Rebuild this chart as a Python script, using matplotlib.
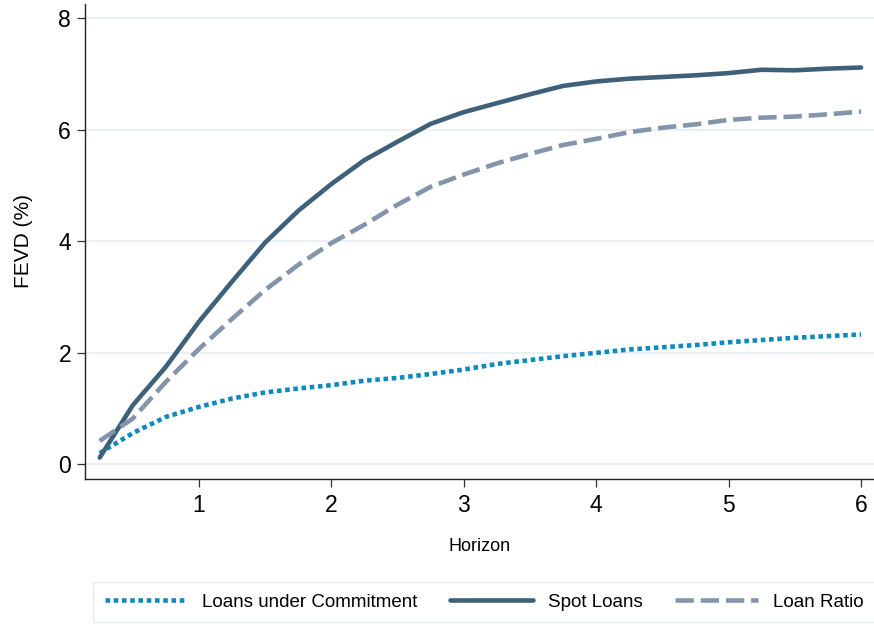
import numpy as np
import matplotlib
matplotlib.use("Agg")
from matplotlib import pyplot as plt

plt.rcParams["font.family"] = ["Liberation Sans", "DejaVu Sans"]

# forecast horizon in years (quarterly steps)
horizon = [0.25, 0.5, 0.75, 1.0, 1.25, 1.5, 1.75, 2.0, 2.25, 2.5, 2.75, 3.0,
           3.25, 3.5, 3.75, 4.0, 4.25, 4.5, 4.75, 5.0, 5.25, 5.5, 5.75, 6.0]

commitment = [0.20, 0.56, 0.85, 1.03, 1.18, 1.29, 1.36, 1.42, 1.50, 1.55, 1.62, 1.70,
              1.80, 1.87, 1.94, 2.00, 2.06, 2.10, 2.14, 2.19, 2.23, 2.27, 2.30, 2.33]

spot = [0.12, 1.06, 1.75, 2.56, 3.28, 3.98, 4.55, 5.03, 5.46, 5.79, 6.11, 6.32,
        6.48, 6.64, 6.79, 6.87, 6.92, 6.95, 6.98, 7.02, 7.08, 7.07, 7.10, 7.12]

ratio = [0.42, 0.82, 1.48, 2.07, 2.61, 3.13, 3.58, 3.97, 4.30, 4.66, 4.98, 5.20,
         5.40, 5.57, 5.73, 5.84, 5.96, 6.04, 6.10, 6.18, 6.22, 6.24, 6.28, 6.33]

labels = ["Loans under Commitment", "Spot Loans", "Loan Ratio"]

fig = plt.figure(figsize=(8.74, 6.24), dpi=100)
ax = fig.add_axes([85 / 874, 1 - 479 / 624, 789 / 874, 475 / 624])

ax.plot(horizon, commitment, color="#0f8abf", lw=3.3, ls=(0, (1, 0.8)),
        dash_capstyle="butt", label=labels[0])
ax.plot(horizon, spot, color="#3e6079", lw=3.3, solid_capstyle="round",
        label=labels[1])
ax.plot(horizon, ratio, color="#8394ab", lw=3.3, ls=(0, (4, 1.5)),
        dash_capstyle="butt", label=labels[2])

ax.set_xlim(0.139, 6.098)
ax.set_ylim(-0.264, 8.26)
ax.set_xticks([1, 2, 3, 4, 5, 6])
ax.set_yticks([0, 2, 4, 6, 8])
ax.yaxis.grid(True, color="#eaf0f3", lw=1.5)
ax.set_axisbelow(True)

for side in ["top", "right"]:
    ax.spines[side].set_visible(False)
for side in ["left", "bottom"]:
    ax.spines[side].set_color("#222222")
    ax.spines[side].set_linewidth(1.0)

ax.tick_params(axis="both", direction="out", length=6, width=0.9,
               color="#333333", labelsize=16.5)
ax.tick_params(axis="y", pad=4)
ax.tick_params(axis="x", pad=5)

ax.set_ylabel("FEVD (%)", fontsize=15, labelpad=18)
ax.set_xlabel("Horizon", fontsize=13, labelpad=15)

leg = fig.legend(loc="center", bbox_to_anchor=(484 / 874, 1 - 602 / 624),
                 ncol=3, fontsize=13.5, frameon=True, fancybox=False,
                 handlelength=4.4, handletextpad=0.8, columnspacing=1.75,
                 borderpad=0.6)
leg.get_frame().set_edgecolor("#dfe6ea")
leg.get_frame().set_linewidth(1.0)

fig.savefig("out.png", dpi=100)
